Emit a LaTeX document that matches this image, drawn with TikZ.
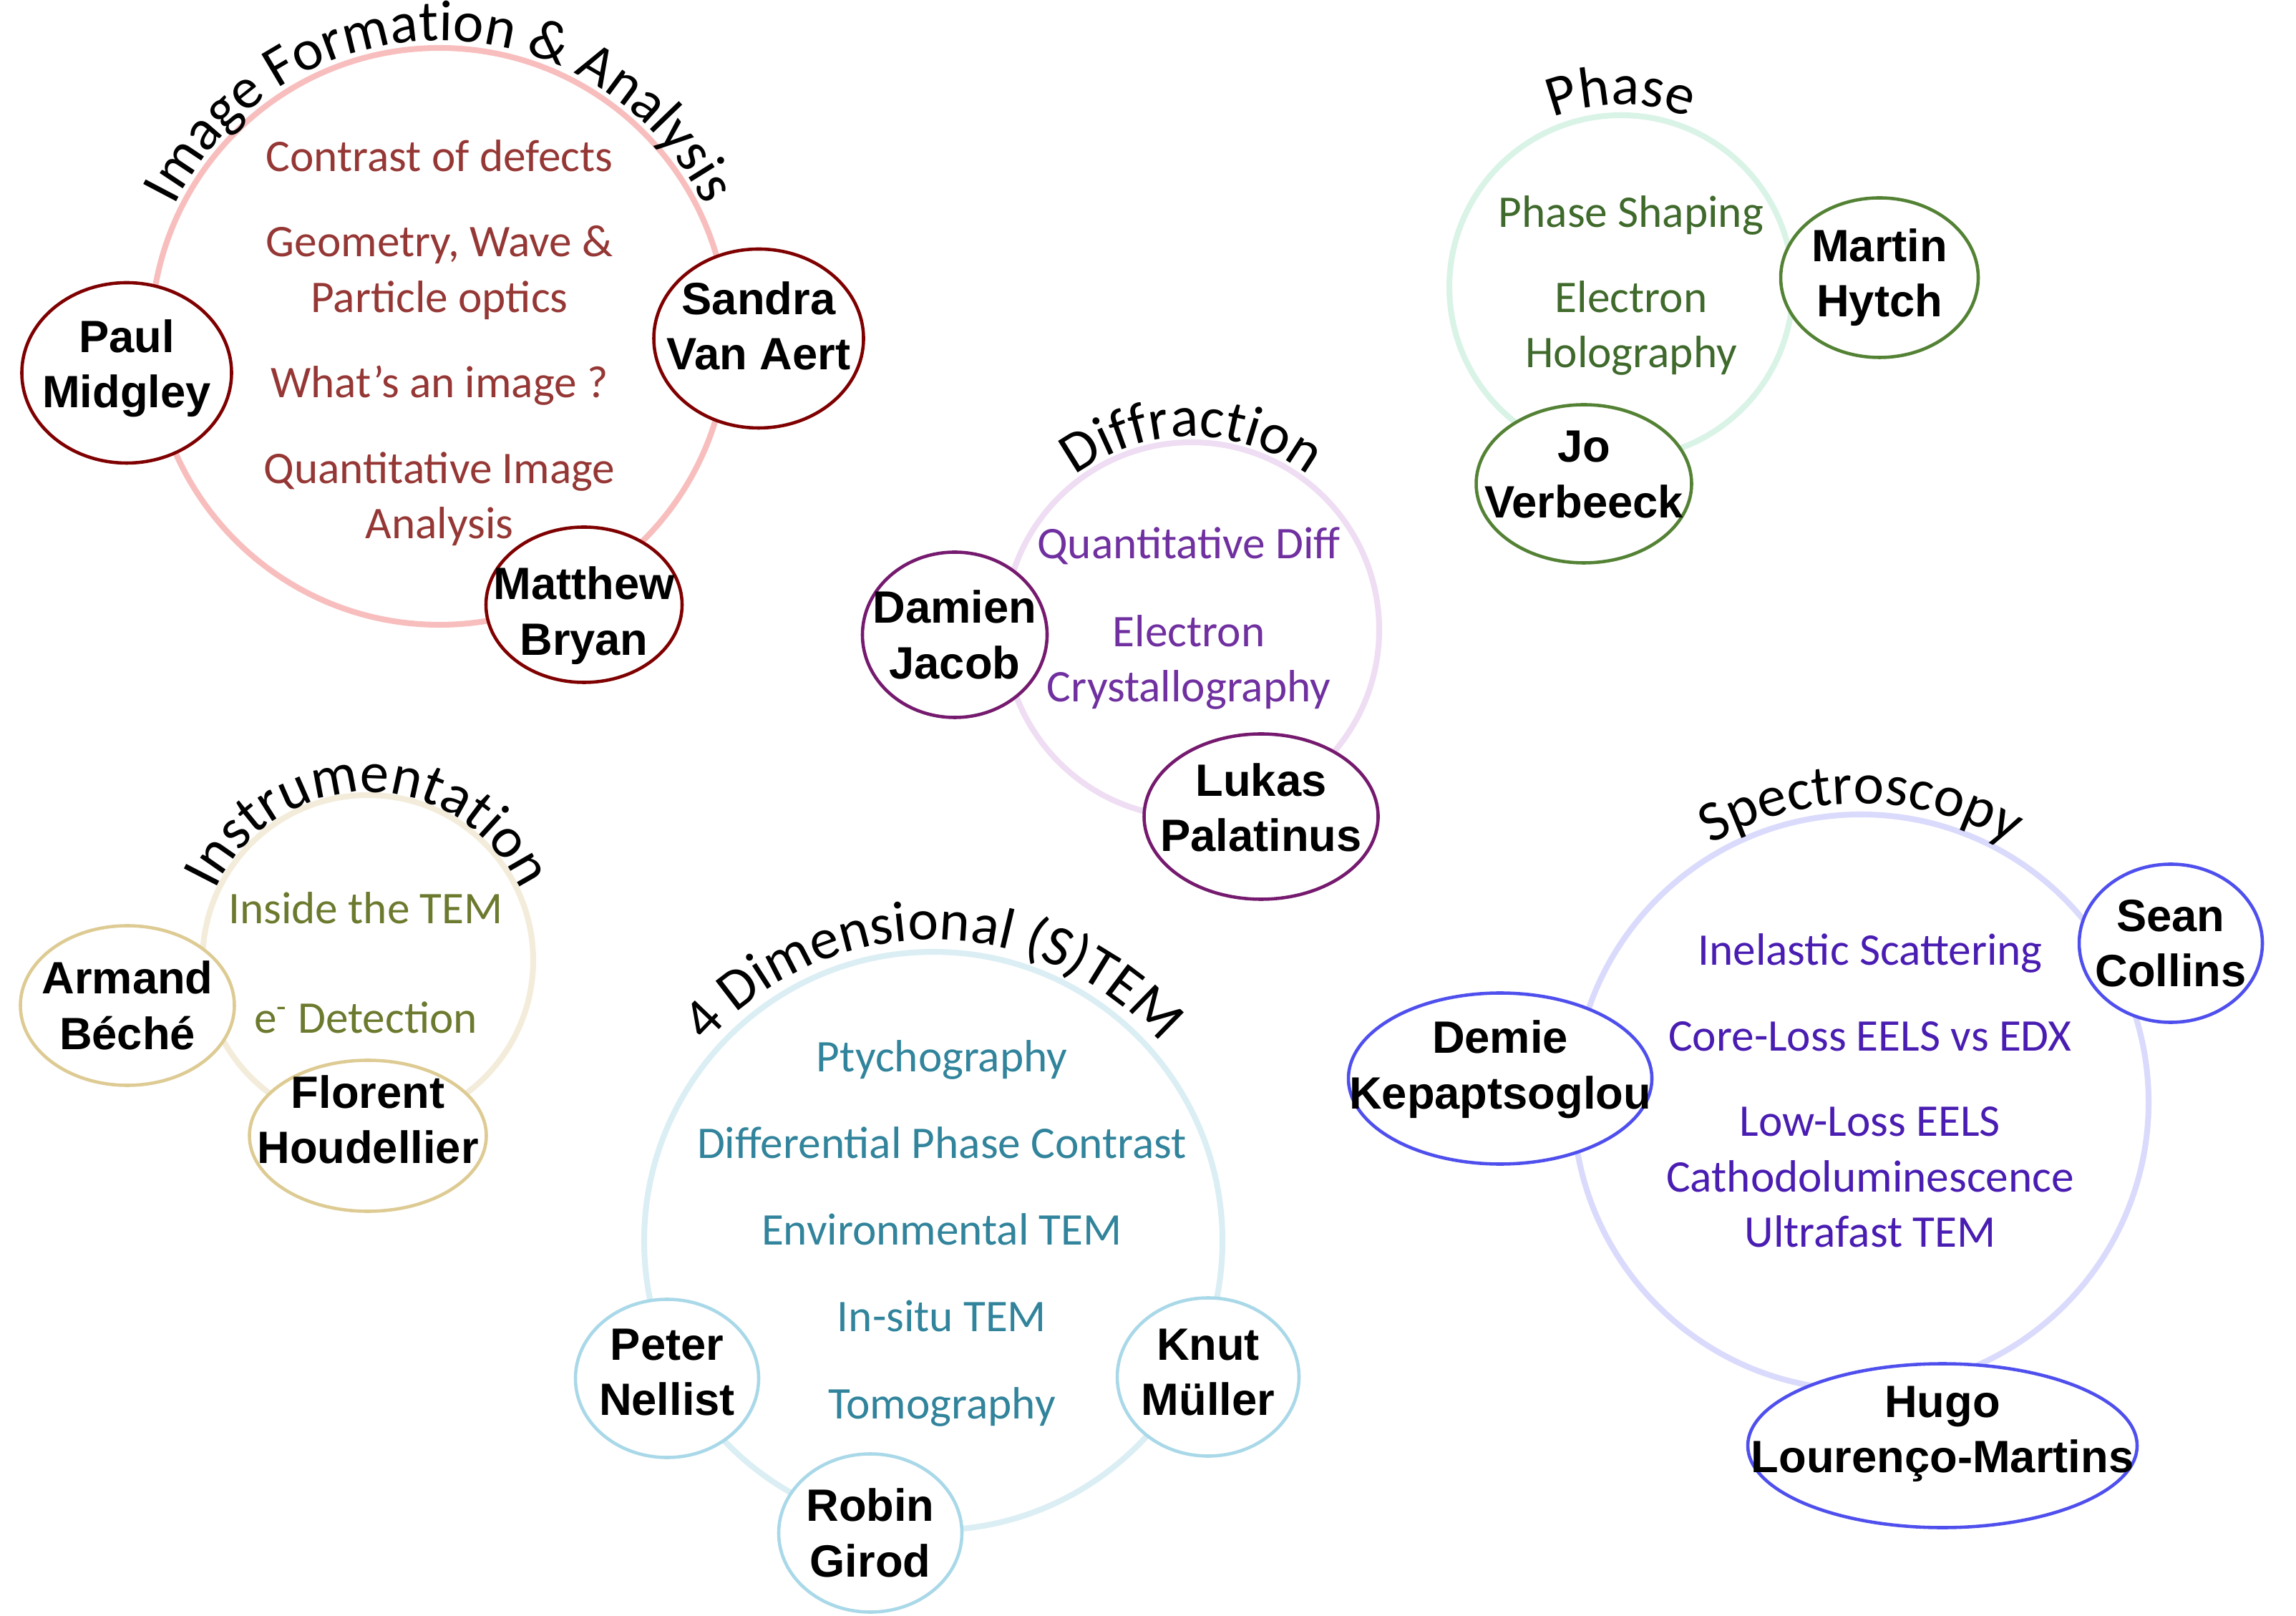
\documentclass[tikz,border=0pt]{standalone}
\usepackage{fontspec}
\setmainfont{Carlito}
\newfontfamily\namefamily{Liberation Sans}
\usepackage{xcolor}
\definecolor{imfring}{HTML}{F8BEBE}
\definecolor{imftext}{HTML}{953735}
\definecolor{imfline}{HTML}{7F0000}
\definecolor{diffring}{HTML}{EEDDF3}
\definecolor{difftext}{HTML}{7030A0}
\definecolor{diffline}{HTML}{751A6E}
\definecolor{phasering}{HTML}{D9F3E7}
\definecolor{phasetext}{HTML}{3F6A2C}
\definecolor{phaseline}{HTML}{548235}
\definecolor{instrring}{HTML}{F3ECDA}
\definecolor{instrtext}{HTML}{6B7A2E}
\definecolor{instrline}{HTML}{DDCB93}
\definecolor{fourdring}{HTML}{DAEEF4}
\definecolor{fourdtext}{HTML}{31849B}
\definecolor{fourdline}{HTML}{A9D8E8}
\definecolor{specring}{HTML}{DADAFC}
\definecolor{spectext}{HTML}{4A1DB2}
\definecolor{specline}{HTML}{4F4FEE}
\usepackage{tikz}
\usetikzlibrary{
  shapes.geometric,
  decorations.text
}
\tikzset{
  ringbox/.style={circle, draw, line width=2.3pt, inner sep=0pt},
  namebox/.style={ellipse, draw, fill=white, line width=1.3pt,
    inner xsep=-2.5cm, inner ysep=-1cm, align=center,
    font=\namefamily\bfseries\fontsize{18}{22}\selectfont},
  topicbox/.style={align=center, font=\fontsize{18}{22}\selectfont},
  ringtitle/.style={decorate, decoration={text along path,
    text align=center, text={|\fontsize{23}{27}\selectfont|#1}}},
}

\begin{document}
\begin{tikzpicture}[
  imfname/.style={namebox, draw=imfline},
  diffname/.style={namebox, draw=diffline},
  phasename/.style={namebox, draw=phaseline},
  instrname/.style={namebox, draw=instrline},
  fourdname/.style={namebox, draw=fourdline},
  specname/.style={namebox, draw=specline}
]
  \useasboundingbox (0,0) rectangle (32.08,22.57);

  % Image formation
  \node[ringbox, draw=imfring, minimum size=8.06cm] (imf) at (6.14,17.87) {};
  \path[ringtitle={Image Formation {\&} Analysis}]
    (imf.center) ++(180:4.13) arc[start angle=180, end angle=0, radius=4.13];
  \node[topicbox, text=imftext] (imflist) at (6.14,17.78) {
    Contrast of defects\\[12pt]
    Geometry, Wave \&\\Particle optics\\[12pt]
    What’s an image ?\\[12pt]
    Quantitative Image\\Analysis
  };
  \node[imfname, minimum width=2.93cm, minimum height=2.52cm, text depth=7.5pt] (midgley) at (1.77,17.36) {Paul\\Midgley};
  \node[imfname, minimum width=2.93cm, minimum height=2.50cm, text depth=10pt] (vanaert) at (10.60,17.84) {Sandra\\Van Aert};
  \node[imfname, minimum width=2.74cm, minimum height=2.17cm, text height=40pt, text depth=0pt] (bryan) at (8.16,14.12) {Matthew\\Bryan};

  % Diffraction
  \node[ringbox, draw=diffring, minimum size=5.24cm] (diff) at (16.65,13.77) {};
  \path[ringtitle={Diffraction}]
    (diff.center) ++(180:2.70) arc[start angle=180, end angle=0, radius=2.70];
  \node[topicbox, text=difftext] (difflist) at (16.61,13.93) {
    Quantitative Diff\\[13pt]
    Electron\\Crystallography
  };
  \node[diffname, minimum width=2.58cm, minimum height=2.31cm] (jacob) at (13.34,13.70) {Damien\\Jacob};
  \node[diffname, minimum width=3.27cm, minimum height=2.31cm, text depth=7.5pt] (palatinus) at (17.62,11.16) {Lukas\\Palatinus};

  % Phase
  \node[ringbox, draw=phasering, minimum size=4.80cm] (phase) at (22.65,18.56) {};
  \path[ringtitle={Phase}]
    (phase.center) ++(180:2.55) arc[start angle=180, end angle=0, radius=2.55];
  \node[topicbox, text=phasetext] (phaselist) at (22.79,18.58) {
    Phase Shaping\\[12pt]
    Electron\\Holography
  };
  \node[phasename, minimum width=2.76cm, minimum height=2.23cm] (hytch) at (26.26,18.69) {Martin\\Hytch};
  \node[phasename, minimum width=3.01cm, minimum height=2.21cm, text depth=7.5pt] (verbeeck) at (22.13,15.81) {Jo\\Verbeeck};

  % Instrumentation
  \node[ringbox, draw=instrring, minimum size=4.62cm] (instr) at (5.14,9.15) {};
  \path[ringtitle={Instrumentation}]
    (instr.center) ++(180:2.35) arc[start angle=180, end angle=0, radius=2.35];
  \node[topicbox, text=instrtext] (instrlist) at (5.11,9.12) {
    Inside the TEM\\[21.5pt]
    e\textsuperscript{-} Detection
  };
  \node[instrname, minimum width=2.99cm, minimum height=2.23cm] (beche) at (1.78,8.52) {Armand\\Béché};
  \node[instrname, minimum width=3.31cm, minimum height=2.11cm, text depth=13pt] (houdellier) at (5.14,6.70) {Florent\\Houdellier};

  % 4D (S)TEM
  \node[ringbox, draw=fourdring, minimum size=8.08cm] (fourd) at (13.04,5.23) {};
  \path[ringtitle={4 Dimensional (S)TEM}]
    (fourd.center) ++(180:4.21) arc[start angle=180, end angle=0, radius=4.21];
  \node[topicbox, text=fourdtext] (fourdlist) at (13.16,5.34) {
    Ptychography\\[12.5pt]
    Differential Phase Contrast\\[12.5pt]
    Environmental TEM\\[12.5pt]
    In-situ TEM\\[12.5pt]
    Tomography
  };
  \node[fourdname, minimum width=2.56cm, minimum height=2.21cm, text depth=5pt] (nellist) at (9.32,3.31) {Peter\\Nellist};
  \node[fourdname, minimum width=2.54cm, minimum height=2.21cm, text depth=4pt] (mueller) at (16.88,3.33) {Knut\\Müller};
  \node[fourdname, minimum width=2.56cm, minimum height=2.21cm] (girod) at (12.16,1.15) {Robin\\Girod};

  % Spectroscopy
  \node[ringbox, draw=specring, minimum size=8.04cm] (spec) at (26.00,7.17) {};
  \path[ringtitle={Spectroscopy}]
    (spec.center) ++(180:4.17) arc[start angle=180, end angle=0, radius=4.17];
  \node[topicbox, text=spectext] (speclist) at (26.13,7.33) {
    Inelastic Scattering\\[12pt]
    Core-Loss EELS vs EDX\\[12pt]
    Low-Loss EELS\\Cathodoluminescence\\Ultrafast TEM
  };
  \node[specname, minimum width=2.56cm, minimum height=2.21cm] (collins) at (30.33,9.39) {Sean\\Collins};
  \node[specname, minimum width=4.24cm, minimum height=2.39cm, text depth=11pt] (kepaptsoglou) at (20.96,7.50) {Demie\\Kepaptsoglou};
  \node[specname, minimum width=5.44cm, minimum height=2.29cm, text depth=13pt] (lourenco) at (27.14,2.37) {Hugo\\Lourenço-Martins};
\end{tikzpicture}
\end{document}
